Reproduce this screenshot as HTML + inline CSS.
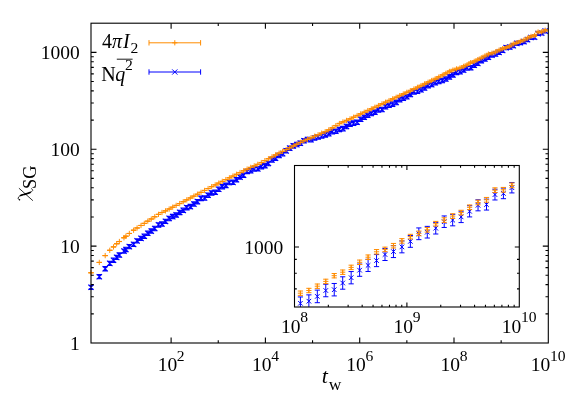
<!DOCTYPE html>
<html><head><meta charset="utf-8"><title>chart</title>
<style>
html,body{margin:0;padding:0;background:#fff;overflow:hidden;}
svg{display:block;will-change:transform;font-family:"Liberation Serif",serif;fill:#000;}
svg path,svg line,svg rect{shape-rendering:auto;}
</style></head><body>
<svg width="581" height="407" viewBox="0 0 581 407">
<rect x="0" y="0" width="581" height="407" fill="#fff"/>
<path d="M91.00 285.17V289.38M88.30 285.17h5.40M88.30 289.38h5.40M88.30 284.57l5.40 5.40M88.30 289.97l5.40 -5.40M99.30 274.60V278.83M96.60 274.60h5.40M96.60 278.83h5.40M96.60 274.02l5.40 5.40M96.60 279.42l5.40 -5.40M105.19 266.63V270.88M102.49 266.63h5.40M102.49 270.88h5.40M102.49 266.05l5.40 5.40M102.49 271.45l5.40 -5.40M109.76 261.28V265.55M107.06 261.28h5.40M107.06 265.55h5.40M107.06 260.72l5.40 5.40M107.06 266.12l5.40 -5.40M113.50 258.08V262.36M110.80 258.08h5.40M110.80 262.36h5.40M110.80 257.52l5.40 5.40M110.80 262.92l5.40 -5.40M116.65 255.25V259.54M113.95 255.25h5.40M113.95 259.54h5.40M113.95 254.69l5.40 5.40M113.95 260.09l5.40 -5.40M119.39 252.87V257.17M116.69 252.87h5.40M116.69 257.17h5.40M116.69 252.32l5.40 5.40M116.69 257.72l5.40 -5.40M123.96 248.98V253.29M121.26 248.98h5.40M121.26 253.29h5.40M121.26 248.43l5.40 5.40M121.26 253.83l5.40 -5.40M125.91 247.32V251.63M123.21 247.32h5.40M123.21 251.63h5.40M123.21 246.78l5.40 5.40M123.21 252.18l5.40 -5.40M129.33 244.41V248.73M126.63 244.41h5.40M126.63 248.73h5.40M126.63 243.87l5.40 5.40M126.63 249.27l5.40 -5.40M133.58 242.24V246.58M130.88 242.24h5.40M130.88 246.58h5.40M130.88 241.71l5.40 5.40M130.88 247.11l5.40 -5.40M137.10 238.69V243.04M134.40 238.69h5.40M134.40 243.04h5.40M134.40 238.17l5.40 5.40M134.40 243.57l5.40 -5.40M141.01 236.19V240.55M138.31 236.19h5.40M138.31 240.55h5.40M138.31 235.67l5.40 5.40M138.31 241.07l5.40 -5.40M144.29 234.07V238.44M141.59 234.07h5.40M141.59 238.44h5.40M141.59 233.56l5.40 5.40M141.59 238.96l5.40 -5.40M147.77 231.02V235.41M145.07 231.02h5.40M145.07 235.41h5.40M145.07 230.52l5.40 5.40M145.07 235.92l5.40 -5.40M151.29 228.88V233.28M148.59 228.88h5.40M148.59 233.28h5.40M148.59 228.38l5.40 5.40M148.59 233.78l5.40 -5.40M154.75 226.28V230.68M152.05 226.28h5.40M152.05 230.68h5.40M152.05 225.78l5.40 5.40M152.05 231.18l5.40 -5.40M158.49 222.71V227.13M155.79 222.71h5.40M155.79 227.13h5.40M155.79 222.22l5.40 5.40M155.79 227.62l5.40 -5.40M161.97 221.74V226.17M159.27 221.74h5.40M159.27 226.17h5.40M159.27 221.26l5.40 5.40M159.27 226.66l5.40 -5.40M165.49 219.16V223.59M162.79 219.16h5.40M162.79 223.59h5.40M162.79 218.67l5.40 5.40M162.79 224.07l5.40 -5.40M169.17 216.21V220.66M166.47 216.21h5.40M166.47 220.66h5.40M166.47 215.74l5.40 5.40M166.47 221.14l5.40 -5.40M172.68 214.37V218.82M169.98 214.37h5.40M169.98 218.82h5.40M169.98 213.89l5.40 5.40M169.98 219.29l5.40 -5.40M176.16 212.65V217.11M173.46 212.65h5.40M173.46 217.11h5.40M173.46 212.18l5.40 5.40M173.46 217.58l5.40 -5.40M179.68 210.18V214.64M176.98 210.18h5.40M176.98 214.64h5.40M176.98 209.71l5.40 5.40M176.98 215.11l5.40 -5.40M183.25 208.08V212.54M180.55 208.08h5.40M180.55 212.54h5.40M180.55 207.61l5.40 5.40M180.55 213.01l5.40 -5.40M186.78 205.41V209.87M184.08 205.41h5.40M184.08 209.87h5.40M184.08 204.94l5.40 5.40M184.08 210.34l5.40 -5.40M190.35 204.36V208.82M187.65 204.36h5.40M187.65 208.82h5.40M187.65 203.89l5.40 5.40M187.65 209.29l5.40 -5.40M193.87 201.87V206.34M191.17 201.87h5.40M191.17 206.34h5.40M191.17 201.41l5.40 5.40M191.17 206.81l5.40 -5.40M197.45 199.42V203.89M194.75 199.42h5.40M194.75 203.89h5.40M194.75 198.95l5.40 5.40M194.75 204.35l5.40 -5.40M201.02 196.13V200.60M198.32 196.13h5.40M198.32 200.60h5.40M198.32 195.66l5.40 5.40M198.32 201.06l5.40 -5.40M204.55 195.71V200.18M201.85 195.71h5.40M201.85 200.18h5.40M201.85 195.24l5.40 5.40M201.85 200.64l5.40 -5.40M208.10 192.94V197.41M205.40 192.94h5.40M205.40 197.41h5.40M205.40 192.47l5.40 5.40M205.40 197.87l5.40 -5.40M211.64 190.65V195.12M208.94 190.65h5.40M208.94 195.12h5.40M208.94 190.18l5.40 5.40M208.94 195.58l5.40 -5.40M215.19 189.98V194.45M212.49 189.98h5.40M212.49 194.45h5.40M212.49 189.52l5.40 5.40M212.49 194.92l5.40 -5.40M218.74 187.06V191.54M216.04 187.06h5.40M216.04 191.54h5.40M216.04 186.60l5.40 5.40M216.04 192.00l5.40 -5.40M222.29 184.48V188.96M219.59 184.48h5.40M219.59 188.96h5.40M219.59 184.02l5.40 5.40M219.59 189.42l5.40 -5.40M225.83 183.13V187.61M223.13 183.13h5.40M223.13 187.61h5.40M223.13 182.67l5.40 5.40M223.13 188.07l5.40 -5.40M229.38 180.31V184.79M226.68 180.31h5.40M226.68 184.79h5.40M226.68 179.85l5.40 5.40M226.68 185.25l5.40 -5.40M232.93 180.10V184.58M230.23 180.10h5.40M230.23 184.58h5.40M230.23 179.64l5.40 5.40M230.23 185.04l5.40 -5.40M236.48 177.49V181.97M233.78 177.49h5.40M233.78 181.97h5.40M233.78 177.03l5.40 5.40M233.78 182.43l5.40 -5.40M240.03 174.84V179.33M237.33 174.84h5.40M237.33 179.33h5.40M237.33 174.39l5.40 5.40M237.33 179.79l5.40 -5.40M243.58 173.03V177.51M240.88 173.03h5.40M240.88 177.51h5.40M240.88 172.57l5.40 5.40M240.88 177.97l5.40 -5.40M247.13 169.26V173.74M244.43 169.26h5.40M244.43 173.74h5.40M244.43 168.80l5.40 5.40M244.43 174.20l5.40 -5.40M250.68 168.49V172.98M247.98 168.49h5.40M247.98 172.98h5.40M247.98 168.03l5.40 5.40M247.98 173.43l5.40 -5.40M254.23 166.73V171.22M251.53 166.73h5.40M251.53 171.22h5.40M251.53 166.28l5.40 5.40M251.53 171.68l5.40 -5.40M257.77 166.56V171.06M255.07 166.56h5.40M255.07 171.06h5.40M255.07 166.11l5.40 5.40M255.07 171.51l5.40 -5.40M261.32 164.40V168.90M258.62 164.40h5.40M258.62 168.90h5.40M258.62 163.95l5.40 5.40M258.62 169.35l5.40 -5.40M264.87 163.37V167.87M262.17 163.37h5.40M262.17 167.87h5.40M262.17 162.92l5.40 5.40M262.17 168.32l5.40 -5.40M268.42 161.16V165.65M265.72 161.16h5.40M265.72 165.65h5.40M265.72 160.71l5.40 5.40M265.72 166.11l5.40 -5.40M271.97 157.74V162.24M269.27 157.74h5.40M269.27 162.24h5.40M269.27 157.29l5.40 5.40M269.27 162.69l5.40 -5.40M275.51 155.96V160.46M272.81 155.96h5.40M272.81 160.46h5.40M272.81 155.51l5.40 5.40M272.81 160.91l5.40 -5.40M279.06 153.25V157.75M276.36 153.25h5.40M276.36 157.75h5.40M276.36 152.80l5.40 5.40M276.36 158.20l5.40 -5.40M282.61 151.43V155.93M279.91 151.43h5.40M279.91 155.93h5.40M279.91 150.98l5.40 5.40M279.91 156.38l5.40 -5.40M286.16 148.58V153.08M283.46 148.58h5.40M283.46 153.08h5.40M283.46 148.13l5.40 5.40M283.46 153.53l5.40 -5.40M289.71 145.91V150.41M287.01 145.91h5.40M287.01 150.41h5.40M287.01 145.46l5.40 5.40M287.01 150.86l5.40 -5.40M293.26 143.61V148.11M290.56 143.61h5.40M290.56 148.11h5.40M290.56 143.16l5.40 5.40M290.56 148.56l5.40 -5.40M296.80 142.33V146.84M294.10 142.33h5.40M294.10 146.84h5.40M294.10 141.89l5.40 5.40M294.10 147.29l5.40 -5.40M300.35 140.90V145.41M297.65 140.90h5.40M297.65 145.41h5.40M297.65 140.46l5.40 5.40M297.65 145.86l5.40 -5.40M303.90 138.50V143.02M301.20 138.50h5.40M301.20 143.02h5.40M301.20 138.06l5.40 5.40M301.20 143.46l5.40 -5.40M307.45 137.22V141.73M304.75 137.22h5.40M304.75 141.73h5.40M304.75 136.78l5.40 5.40M304.75 142.18l5.40 -5.40M311.00 137.53V142.04M308.30 137.53h5.40M308.30 142.04h5.40M308.30 137.08l5.40 5.40M308.30 142.48l5.40 -5.40M314.55 135.71V140.23M311.85 135.71h5.40M311.85 140.23h5.40M311.85 135.27l5.40 5.40M311.85 140.67l5.40 -5.40M318.09 134.67V139.19M315.39 134.67h5.40M315.39 139.19h5.40M315.39 134.23l5.40 5.40M315.39 139.63l5.40 -5.40M321.64 133.77V138.29M318.94 133.77h5.40M318.94 138.29h5.40M318.94 133.33l5.40 5.40M318.94 138.73l5.40 -5.40M325.19 132.61V137.13M322.49 132.61h5.40M322.49 137.13h5.40M322.49 132.17l5.40 5.40M322.49 137.57l5.40 -5.40M328.74 131.38V135.90M326.04 131.38h5.40M326.04 135.90h5.40M326.04 130.94l5.40 5.40M326.04 136.34l5.40 -5.40M332.29 129.38V133.91M329.59 129.38h5.40M329.59 133.91h5.40M329.59 128.95l5.40 5.40M329.59 134.35l5.40 -5.40M335.84 128.92V133.44M333.14 128.92h5.40M333.14 133.44h5.40M333.14 128.48l5.40 5.40M333.14 133.88l5.40 -5.40M339.38 127.18V131.71M336.68 127.18h5.40M336.68 131.71h5.40M336.68 126.74l5.40 5.40M336.68 132.14l5.40 -5.40M342.93 126.39V130.92M340.23 126.39h5.40M340.23 130.92h5.40M340.23 125.95l5.40 5.40M340.23 131.35l5.40 -5.40M346.48 124.17V128.70M343.78 124.17h5.40M343.78 128.70h5.40M343.78 123.74l5.40 5.40M343.78 129.14l5.40 -5.40M350.03 121.84V126.37M347.33 121.84h5.40M347.33 126.37h5.40M347.33 121.41l5.40 5.40M347.33 126.81l5.40 -5.40M353.58 120.89V125.42M350.88 120.89h5.40M350.88 125.42h5.40M350.88 120.45l5.40 5.40M350.88 125.85l5.40 -5.40M357.13 119.93V124.46M354.43 119.93h5.40M354.43 124.46h5.40M354.43 119.49l5.40 5.40M354.43 124.89l5.40 -5.40M360.67 117.03V121.56M357.97 117.03h5.40M357.97 121.56h5.40M357.97 116.59l5.40 5.40M357.97 121.99l5.40 -5.40M364.22 114.91V119.45M361.52 114.91h5.40M361.52 119.45h5.40M361.52 114.48l5.40 5.40M361.52 119.88l5.40 -5.40M367.77 112.95V117.49M365.07 112.95h5.40M365.07 117.49h5.40M365.07 112.52l5.40 5.40M365.07 117.92l5.40 -5.40M371.32 111.25V115.78M368.62 111.25h5.40M368.62 115.78h5.40M368.62 110.82l5.40 5.40M368.62 116.22l5.40 -5.40M374.87 109.85V114.39M372.17 109.85h5.40M372.17 114.39h5.40M372.17 109.42l5.40 5.40M372.17 114.82l5.40 -5.40M378.42 107.63V112.17M375.72 107.63h5.40M375.72 112.17h5.40M375.72 107.20l5.40 5.40M375.72 112.60l5.40 -5.40M381.96 107.20V111.74M379.26 107.20h5.40M379.26 111.74h5.40M379.26 106.77l5.40 5.40M379.26 112.17l5.40 -5.40M385.51 104.53V109.07M382.81 104.53h5.40M382.81 109.07h5.40M382.81 104.10l5.40 5.40M382.81 109.50l5.40 -5.40M389.06 102.95V107.50M386.36 102.95h5.40M386.36 107.50h5.40M386.36 102.52l5.40 5.40M386.36 107.92l5.40 -5.40M392.61 101.84V106.39M389.91 101.84h5.40M389.91 106.39h5.40M389.91 101.42l5.40 5.40M389.91 106.82l5.40 -5.40M396.16 100.11V104.66M393.46 100.11h5.40M393.46 104.66h5.40M393.46 99.68l5.40 5.40M393.46 105.08l5.40 -5.40M399.71 97.48V102.03M397.01 97.48h5.40M397.01 102.03h5.40M397.01 97.06l5.40 5.40M397.01 102.46l5.40 -5.40M403.25 95.99V100.54M400.55 95.99h5.40M400.55 100.54h5.40M400.55 95.56l5.40 5.40M400.55 100.96l5.40 -5.40M406.80 94.42V98.97M404.10 94.42h5.40M404.10 98.97h5.40M404.10 94.00l5.40 5.40M404.10 99.40l5.40 -5.40M410.35 92.19V96.74M407.65 92.19h5.40M407.65 96.74h5.40M407.65 91.76l5.40 5.40M407.65 97.16l5.40 -5.40M413.90 89.63V94.18M411.20 89.63h5.40M411.20 94.18h5.40M411.20 89.20l5.40 5.40M411.20 94.60l5.40 -5.40M417.45 88.97V93.53M414.75 88.97h5.40M414.75 93.53h5.40M414.75 88.55l5.40 5.40M414.75 93.95l5.40 -5.40M421.00 87.52V92.08M418.30 87.52h5.40M418.30 92.08h5.40M418.30 87.10l5.40 5.40M418.30 92.50l5.40 -5.40M424.54 85.72V90.28M421.84 85.72h5.40M421.84 90.28h5.40M421.84 85.30l5.40 5.40M421.84 90.70l5.40 -5.40M428.09 83.48V88.05M425.39 83.48h5.40M425.39 88.05h5.40M425.39 83.06l5.40 5.40M425.39 88.46l5.40 -5.40M431.64 82.28V86.84M428.94 82.28h5.40M428.94 86.84h5.40M428.94 81.86l5.40 5.40M428.94 87.26l5.40 -5.40M435.19 80.52V85.08M432.49 80.52h5.40M432.49 85.08h5.40M432.49 80.10l5.40 5.40M432.49 85.50l5.40 -5.40M438.74 79.10V83.66M436.04 79.10h5.40M436.04 83.66h5.40M436.04 78.68l5.40 5.40M436.04 84.08l5.40 -5.40M442.29 78.24V82.81M439.59 78.24h5.40M439.59 82.81h5.40M439.59 77.83l5.40 5.40M439.59 83.23l5.40 -5.40M445.83 76.70V81.26M443.13 76.70h5.40M443.13 81.26h5.40M443.13 76.28l5.40 5.40M443.13 81.68l5.40 -5.40M449.38 74.60V79.17M446.68 74.60h5.40M446.68 79.17h5.40M446.68 74.19l5.40 5.40M446.68 79.59l5.40 -5.40M452.93 72.55V77.13M450.23 72.55h5.40M450.23 77.13h5.40M450.23 72.14l5.40 5.40M450.23 77.54l5.40 -5.40M456.48 70.25V74.81M453.78 70.25h5.40M453.78 74.81h5.40M453.78 69.83l5.40 5.40M453.78 75.23l5.40 -5.40M460.03 69.51V74.04M457.33 69.51h5.40M457.33 74.04h5.40M457.33 69.08l5.40 5.40M457.33 74.48l5.40 -5.40M463.58 67.81V72.31M460.88 67.81h5.40M460.88 72.31h5.40M460.88 67.36l5.40 5.40M460.88 72.76l5.40 -5.40M467.12 65.71V70.19M464.42 65.71h5.40M464.42 70.19h5.40M464.42 65.25l5.40 5.40M464.42 70.65l5.40 -5.40M470.67 65.44V69.89M467.97 65.44h5.40M467.97 69.89h5.40M467.97 64.96l5.40 5.40M467.97 70.36l5.40 -5.40M474.22 63.05V67.48M471.52 63.05h5.40M471.52 67.48h5.40M471.52 62.56l5.40 5.40M471.52 67.96l5.40 -5.40M477.77 61.17V65.57M475.07 61.17h5.40M475.07 65.57h5.40M475.07 60.67l5.40 5.40M475.07 66.07l5.40 -5.40M481.32 58.49V62.87M478.62 58.49h5.40M478.62 62.87h5.40M478.62 57.98l5.40 5.40M478.62 63.38l5.40 -5.40M484.87 56.79V61.14M482.17 56.79h5.40M482.17 61.14h5.40M482.17 56.26l5.40 5.40M482.17 61.66l5.40 -5.40M488.41 55.08V59.41M485.71 55.08h5.40M485.71 59.41h5.40M485.71 54.55l5.40 5.40M485.71 59.95l5.40 -5.40M491.96 52.91V57.21M489.26 52.91h5.40M489.26 57.21h5.40M489.26 52.36l5.40 5.40M489.26 57.76l5.40 -5.40M495.51 51.88V56.16M492.81 51.88h5.40M492.81 56.16h5.40M492.81 51.32l5.40 5.40M492.81 56.72l5.40 -5.40M499.06 50.21V54.47M496.36 50.21h5.40M496.36 54.47h5.40M496.36 49.64l5.40 5.40M496.36 55.04l5.40 -5.40M502.61 48.26V52.48M499.91 48.26h5.40M499.91 52.48h5.40M499.91 47.67l5.40 5.40M499.91 53.07l5.40 -5.40M506.16 45.55V49.75M503.46 45.55h5.40M503.46 49.75h5.40M503.46 44.95l5.40 5.40M503.46 50.35l5.40 -5.40M509.70 44.99V49.17M507.00 44.99h5.40M507.00 49.17h5.40M507.00 44.38l5.40 5.40M507.00 49.78l5.40 -5.40M513.25 43.57V47.72M510.55 43.57h5.40M510.55 47.72h5.40M510.55 42.95l5.40 5.40M510.55 48.35l5.40 -5.40M516.80 41.26V45.38M514.10 41.26h5.40M514.10 45.38h5.40M514.10 40.62l5.40 5.40M514.10 46.02l5.40 -5.40M520.35 40.70V44.80M517.65 40.70h5.40M517.65 44.80h5.40M517.65 40.05l5.40 5.40M517.65 45.45l5.40 -5.40M523.90 39.56V43.64M521.20 39.56h5.40M521.20 43.64h5.40M521.20 38.90l5.40 5.40M521.20 44.30l5.40 -5.40M527.45 37.58V41.61M524.75 37.58h5.40M524.75 41.61h5.40M524.75 36.90l5.40 5.40M524.75 42.30l5.40 -5.40M530.99 35.47V39.43M528.29 35.47h5.40M528.29 39.43h5.40M528.29 34.75l5.40 5.40M528.29 40.15l5.40 -5.40M534.54 35.24V39.15M531.84 35.24h5.40M531.84 39.15h5.40M531.84 34.50l5.40 5.40M531.84 39.90l5.40 -5.40M538.09 31.69V35.54M535.39 31.69h5.40M535.39 35.54h5.40M535.39 30.92l5.40 5.40M535.39 36.32l5.40 -5.40M541.64 31.29V35.08M538.94 31.29h5.40M538.94 35.08h5.40M538.94 30.49l5.40 5.40M538.94 35.89l5.40 -5.40M545.19 29.28V33.01M542.49 29.28h5.40M542.49 33.01h5.40M542.49 28.45l5.40 5.40M542.49 33.85l5.40 -5.40" stroke="#0000ff" stroke-width="1.05" fill="none" />
<path d="M91.00 272.72V272.83M88.40 272.72h5.20M88.40 272.83h5.20M88.35 272.77h5.30M91.00 270.12v5.30M99.30 262.36V262.47M96.70 262.36h5.20M96.70 262.47h5.20M96.65 262.42h5.30M99.30 259.77v5.30M105.19 255.55V255.67M102.59 255.55h5.20M102.59 255.67h5.20M102.54 255.61h5.30M105.19 252.96v5.30M109.76 250.25V250.37M107.16 250.25h5.20M107.16 250.37h5.20M107.11 250.31h5.30M109.76 247.66v5.30M113.50 246.84V246.96M110.90 246.84h5.20M110.90 246.96h5.20M110.85 246.90h5.30M113.50 244.25v5.30M116.65 243.70V243.82M114.05 243.70h5.20M114.05 243.82h5.20M114.00 243.76h5.30M116.65 241.11v5.30M119.39 241.45V241.58M116.79 241.45h5.20M116.79 241.58h5.20M116.74 241.52h5.30M119.39 238.87v5.30M123.96 237.70V237.83M121.36 237.70h5.20M121.36 237.83h5.20M121.31 237.76h5.30M123.96 235.11v5.30M125.91 236.13V236.26M123.31 236.13h5.20M123.31 236.26h5.20M123.26 236.19h5.30M125.91 233.54v5.30M129.33 233.40V233.53M126.73 233.40h5.20M126.73 233.53h5.20M126.68 233.47h5.30M129.33 230.82v5.30M133.58 230.14V230.27M130.98 230.14h5.20M130.98 230.27h5.20M130.93 230.21h5.30M133.58 227.56v5.30M137.10 227.90V228.03M134.50 227.90h5.20M134.50 228.03h5.20M134.45 227.96h5.30M137.10 225.31v5.30M141.01 225.40V225.54M138.41 225.40h5.20M138.41 225.54h5.20M138.36 225.47h5.30M141.01 222.82v5.30M144.29 223.31V223.45M141.69 223.31h5.20M141.69 223.45h5.20M141.64 223.38h5.30M144.29 220.73v5.30M147.77 221.09V221.24M145.17 221.09h5.20M145.17 221.24h5.20M145.12 221.16h5.30M147.77 218.51v5.30M151.29 218.90V219.05M148.69 218.90h5.20M148.69 219.05h5.20M148.64 218.98h5.30M151.29 216.33v5.30M154.75 216.68V216.83M152.15 216.68h5.20M152.15 216.83h5.20M152.10 216.76h5.30M154.75 214.11v5.30M158.49 214.29V214.44M155.89 214.29h5.20M155.89 214.44h5.20M155.84 214.37h5.30M158.49 211.72v5.30M161.97 212.41V212.57M159.37 212.41h5.20M159.37 212.57h5.20M159.32 212.49h5.30M161.97 209.84v5.30M165.49 210.79V210.95M162.89 210.79h5.20M162.89 210.95h5.20M162.84 210.87h5.30M165.49 208.22v5.30M169.17 208.93V209.09M166.57 208.93h5.20M166.57 209.09h5.20M166.52 209.01h5.30M169.17 206.36v5.30M172.68 207.12V207.28M170.08 207.12h5.20M170.08 207.28h5.20M170.03 207.20h5.30M172.68 204.55v5.30M176.16 205.31V205.48M173.56 205.31h5.20M173.56 205.48h5.20M173.51 205.39h5.30M176.16 202.74v5.30M179.68 203.49V203.66M177.08 203.49h5.20M177.08 203.66h5.20M177.03 203.57h5.30M179.68 200.92v5.30M183.25 201.63V201.80M180.65 201.63h5.20M180.65 201.80h5.20M180.60 201.72h5.30M183.25 199.07v5.30M186.78 199.79V199.97M184.18 199.79h5.20M184.18 199.97h5.20M184.13 199.88h5.30M186.78 197.23v5.30M190.35 197.89V198.07M187.75 197.89h5.20M187.75 198.07h5.20M187.70 197.98h5.30M190.35 195.33v5.30M193.87 196.02V196.20M191.27 196.02h5.20M191.27 196.20h5.20M191.22 196.11h5.30M193.87 193.46v5.30M197.45 194.13V194.30M194.85 194.13h5.20M194.85 194.30h5.20M194.80 194.21h5.30M197.45 191.56v5.30M201.02 192.23V192.41M198.42 192.23h5.20M198.42 192.41h5.20M198.37 192.32h5.30M201.02 189.67v5.30M204.55 190.35V190.54M201.95 190.35h5.20M201.95 190.54h5.20M201.90 190.45h5.30M204.55 187.80v5.30M208.10 188.47V188.65M205.50 188.47h5.20M205.50 188.65h5.20M205.45 188.56h5.30M208.10 185.91v5.30M211.64 186.58V186.77M209.04 186.58h5.20M209.04 186.77h5.20M208.99 186.68h5.30M211.64 184.03v5.30M215.19 184.82V185.01M212.59 184.82h5.20M212.59 185.01h5.20M212.54 184.91h5.30M215.19 182.26v5.30M218.74 183.05V183.24M216.14 183.05h5.20M216.14 183.24h5.20M216.09 183.14h5.30M218.74 180.49v5.30M222.29 181.27V181.48M219.69 181.27h5.20M219.69 181.48h5.20M219.64 181.37h5.30M222.29 178.72v5.30M225.83 179.51V179.71M223.23 179.51h5.20M223.23 179.71h5.20M223.18 179.61h5.30M225.83 176.96v5.30M229.38 177.73V177.95M226.78 177.73h5.20M226.78 177.95h5.20M226.73 177.84h5.30M229.38 175.19v5.30M232.93 175.96V176.19M230.33 175.96h5.20M230.33 176.19h5.20M230.28 176.07h5.30M232.93 173.42v5.30M236.48 174.19V174.42M233.88 174.19h5.20M233.88 174.42h5.20M233.83 174.31h5.30M236.48 171.66v5.30M240.03 172.45V172.69M237.43 172.45h5.20M237.43 172.69h5.20M237.38 172.57h5.30M240.03 169.92v5.30M243.58 170.71V170.96M240.98 170.71h5.20M240.98 170.96h5.20M240.93 170.83h5.30M243.58 168.18v5.30M247.13 168.98V169.23M244.53 168.98h5.20M244.53 169.23h5.20M244.48 169.10h5.30M247.13 166.45v5.30M250.68 167.28V167.54M248.08 167.28h5.20M248.08 167.54h5.20M248.03 167.41h5.30M250.68 164.76v5.30M254.23 165.74V166.00M251.63 165.74h5.20M251.63 166.00h5.20M251.58 165.87h5.30M254.23 163.22v5.30M257.77 164.19V164.47M255.17 164.19h5.20M255.17 164.47h5.20M255.12 164.33h5.30M257.77 161.68v5.30M261.32 162.42V162.70M258.72 162.42h5.20M258.72 162.70h5.20M258.67 162.56h5.30M261.32 159.91v5.30M264.87 160.51V160.80M262.27 160.51h5.20M262.27 160.80h5.20M262.22 160.66h5.30M264.87 158.01v5.30M268.42 158.61V158.90M265.82 158.61h5.20M265.82 158.90h5.20M265.77 158.76h5.30M268.42 156.11v5.30M271.97 156.70V157.01M269.37 156.70h5.20M269.37 157.01h5.20M269.32 156.85h5.30M271.97 154.20v5.30M275.51 154.80V155.11M272.91 154.80h5.20M272.91 155.11h5.20M272.86 154.95h5.30M275.51 152.30v5.30M279.06 153.00V153.32M276.46 153.00h5.20M276.46 153.32h5.20M276.41 153.16h5.30M279.06 150.51v5.30M282.61 151.21V151.53M280.01 151.21h5.20M280.01 151.53h5.20M279.96 151.37h5.30M282.61 148.72v5.30M286.16 149.41V149.75M283.56 149.41h5.20M283.56 149.75h5.20M283.51 149.58h5.30M286.16 146.93v5.30M289.71 147.62V147.96M287.11 147.62h5.20M287.11 147.96h5.20M287.06 147.79h5.30M289.71 145.14v5.30M293.26 145.83V146.18M290.66 145.83h5.20M290.66 146.18h5.20M290.61 146.00h5.30M293.26 143.35v5.30M296.80 144.04V144.39M294.20 144.04h5.20M294.20 144.39h5.20M294.15 144.22h5.30M296.80 141.57v5.30M300.35 142.25V142.61M297.75 142.25h5.20M297.75 142.61h5.20M297.70 142.43h5.30M300.35 139.78v5.30M303.90 140.63V141.00M301.30 140.63h5.20M301.30 141.00h5.20M301.25 140.81h5.30M303.90 138.16v5.30M307.45 139.10V139.48M304.85 139.10h5.20M304.85 139.48h5.20M304.80 139.29h5.30M307.45 136.64v5.30M311.00 137.58V137.96M308.40 137.58h5.20M308.40 137.96h5.20M308.35 137.77h5.30M311.00 135.12v5.30M314.55 136.05V136.45M311.95 136.05h5.20M311.95 136.45h5.20M311.90 136.25h5.30M314.55 133.60v5.30M318.09 134.52V134.94M315.49 134.52h5.20M315.49 134.94h5.20M315.44 134.73h5.30M318.09 132.08v5.30M321.64 132.99V133.43M319.04 132.99h5.20M319.04 133.43h5.20M318.99 133.21h5.30M321.64 130.56v5.30M325.19 131.46V131.92M322.59 131.46h5.20M322.59 131.92h5.20M322.54 131.69h5.30M325.19 129.04v5.30M328.74 129.71V130.20M326.14 129.71h5.20M326.14 130.20h5.20M326.09 129.96h5.30M328.74 127.31v5.30M332.29 127.57V128.08M329.69 127.57h5.20M329.69 128.08h5.20M329.64 127.83h5.30M332.29 125.18v5.30M335.84 125.43V125.96M333.24 125.43h5.20M333.24 125.96h5.20M333.19 125.70h5.30M335.84 123.05v5.30M339.38 123.29V123.85M336.78 123.29h5.20M336.78 123.85h5.20M336.73 123.57h5.30M339.38 120.92v5.30M342.93 121.67V122.25M340.33 121.67h5.20M340.33 122.25h5.20M340.28 121.96h5.30M342.93 119.31v5.30M346.48 120.17V120.76M343.88 120.17h5.20M343.88 120.76h5.20M343.83 120.46h5.30M346.48 117.81v5.30M350.03 118.61V119.23M347.43 118.61h5.20M347.43 119.23h5.20M347.38 118.92h5.30M350.03 116.27v5.30M353.58 116.93V117.57M350.98 116.93h5.20M350.98 117.57h5.20M350.93 117.25h5.30M353.58 114.60v5.30M357.13 115.25V115.91M354.53 115.25h5.20M354.53 115.91h5.20M354.48 115.58h5.30M357.13 112.93v5.30M360.67 113.57V114.25M358.07 113.57h5.20M358.07 114.25h5.20M358.02 113.91h5.30M360.67 111.26v5.30M364.22 111.89V112.59M361.62 111.89h5.20M361.62 112.59h5.20M361.57 112.24h5.30M364.22 109.59v5.30M367.77 110.21V110.94M365.17 110.21h5.20M365.17 110.94h5.20M365.12 110.58h5.30M367.77 107.93v5.30M371.32 108.54V109.29M368.72 108.54h5.20M368.72 109.29h5.20M368.67 108.91h5.30M371.32 106.26v5.30M374.87 106.86V107.63M372.27 106.86h5.20M372.27 107.63h5.20M372.22 107.25h5.30M374.87 104.60v5.30M378.42 105.19V105.98M375.82 105.19h5.20M375.82 105.98h5.20M375.77 105.58h5.30M378.42 102.93v5.30M381.96 103.51V104.33M379.36 103.51h5.20M379.36 104.33h5.20M379.31 103.92h5.30M381.96 101.27v5.30M385.51 101.84V102.67M382.91 101.84h5.20M382.91 102.67h5.20M382.86 102.26h5.30M385.51 99.61v5.30M389.06 100.16V101.02M386.46 100.16h5.20M386.46 101.02h5.20M386.41 100.59h5.30M389.06 97.94v5.30M392.61 98.49V99.37M390.01 98.49h5.20M390.01 99.37h5.20M389.96 98.93h5.30M392.61 96.28v5.30M396.16 96.84V97.74M393.56 96.84h5.20M393.56 97.74h5.20M393.51 97.29h5.30M396.16 94.64v5.30M399.71 95.18V96.11M397.11 95.18h5.20M397.11 96.11h5.20M397.06 95.64h5.30M399.71 92.99v5.30M403.25 93.53V94.47M400.65 93.53h5.20M400.65 94.47h5.20M400.60 94.00h5.30M403.25 91.35v5.30M406.80 91.87V92.84M404.20 91.87h5.20M404.20 92.84h5.20M404.15 92.36h5.30M406.80 89.71v5.30M410.35 90.21V91.22M407.75 90.21h5.20M407.75 91.22h5.20M407.70 90.71h5.30M410.35 88.06v5.30M413.90 88.54V89.60M411.30 88.54h5.20M411.30 89.60h5.20M411.25 89.07h5.30M413.90 86.42v5.30M417.45 86.79V87.89M414.85 86.79h5.20M414.85 87.89h5.20M414.80 87.34h5.30M417.45 84.69v5.30M421.00 85.07V86.21M418.40 85.07h5.20M418.40 86.21h5.20M418.35 85.64h5.30M421.00 82.99v5.30M424.54 83.35V84.54M421.94 83.35h5.20M421.94 84.54h5.20M421.89 83.94h5.30M424.54 81.29v5.30M428.09 81.63V82.86M425.49 81.63h5.20M425.49 82.86h5.20M425.44 82.25h5.30M428.09 79.60v5.30M431.64 79.92V81.19M429.04 79.92h5.20M429.04 81.19h5.20M428.99 80.55h5.30M431.64 77.90v5.30M435.19 78.20V79.52M432.59 78.20h5.20M432.59 79.52h5.20M432.54 78.86h5.30M435.19 76.21v5.30M438.74 76.48V77.84M436.14 76.48h5.20M436.14 77.84h5.20M436.09 77.16h5.30M438.74 74.51v5.30M442.29 74.57V75.98M439.69 74.57h5.20M439.69 75.98h5.20M439.64 75.28h5.30M442.29 72.63v5.30M445.83 72.65V74.10M443.23 72.65h5.20M443.23 74.10h5.20M443.18 73.38h5.30M445.83 70.73v5.30M449.38 70.73V72.22M446.78 70.73h5.20M446.78 72.22h5.20M446.73 71.47h5.30M449.38 68.82v5.30M452.93 69.32V70.86M450.33 69.32h5.20M450.33 70.86h5.20M450.28 70.09h5.30M452.93 67.44v5.30M456.48 68.14V69.69M453.88 68.14h5.20M453.88 69.69h5.20M453.83 68.92h5.30M456.48 66.27v5.30M460.03 67.17V68.73M457.43 67.17h5.20M457.43 68.73h5.20M457.38 67.95h5.30M460.03 65.30v5.30M463.58 65.63V67.19M460.98 65.63h5.20M460.98 67.19h5.20M460.93 66.41h5.30M463.58 63.76v5.30M467.12 63.91V65.48M464.52 63.91h5.20M464.52 65.48h5.20M464.47 64.69h5.30M467.12 62.04v5.30M470.67 61.86V63.44M468.07 61.86h5.20M468.07 63.44h5.20M468.02 62.65h5.30M470.67 60.00v5.30M474.22 60.61V62.19M471.62 60.61h5.20M471.62 62.19h5.20M471.57 61.40h5.30M474.22 58.75v5.30M477.77 58.88V60.47M475.17 58.88h5.20M475.17 60.47h5.20M475.12 59.68h5.30M477.77 57.03v5.30M481.32 57.06V58.65M478.72 57.06h5.20M478.72 58.65h5.20M478.67 57.85h5.30M481.32 55.20v5.30M484.87 55.23V56.83M482.27 55.23h5.20M482.27 56.83h5.20M482.22 56.03h5.30M484.87 53.38v5.30M488.41 53.29V54.90M485.81 53.29h5.20M485.81 54.90h5.20M485.76 54.09h5.30M488.41 51.44v5.30M491.96 52.43V54.04M489.36 52.43h5.20M489.36 54.04h5.20M489.31 53.24h5.30M491.96 50.59v5.30M495.51 51.10V52.72M492.91 51.10h5.20M492.91 52.72h5.20M492.86 51.91h5.30M495.51 49.26v5.30M499.06 49.38V51.00M496.46 49.38h5.20M496.46 51.00h5.20M496.41 50.19h5.30M499.06 47.54v5.30M502.61 47.84V49.47M500.01 47.84h5.20M500.01 49.47h5.20M499.96 48.65h5.30M502.61 46.00v5.30M506.16 46.69V48.33M503.56 46.69h5.20M503.56 48.33h5.20M503.51 47.51h5.30M506.16 44.86v5.30M509.70 45.40V47.04M507.10 45.40h5.20M507.10 47.04h5.20M507.05 46.22h5.30M509.70 43.57v5.30M513.25 43.21V44.86M510.65 43.21h5.20M510.65 44.86h5.20M510.60 44.04h5.30M513.25 41.39v5.30M516.80 41.92V43.57M514.20 41.92h5.20M514.20 43.57h5.20M514.15 42.75h5.30M516.80 40.10v5.30M520.35 40.48V42.14M517.75 40.48h5.20M517.75 42.14h5.20M517.70 41.31h5.30M520.35 38.66v5.30M523.90 39.23V40.89M521.30 39.23h5.20M521.30 40.89h5.20M521.25 40.06h5.30M523.90 37.41v5.30M527.45 37.33V39.00M524.85 37.33h5.20M524.85 39.00h5.20M524.80 38.16h5.30M527.45 35.51v5.30M530.99 35.61V37.28M528.39 35.61h5.20M528.39 37.28h5.20M528.34 36.45h5.30M530.99 33.80v5.30M534.54 34.64V36.32M531.94 34.64h5.20M531.94 36.32h5.20M531.89 35.48h5.30M534.54 32.83v5.30M538.09 31.20V32.89M535.49 31.20h5.20M535.49 32.89h5.20M535.44 32.04h5.30M538.09 29.39v5.30M541.64 31.05V32.75M539.04 31.05h5.20M539.04 32.75h5.20M538.99 31.90h5.30M541.64 29.25v5.30M545.19 29.47V31.17M542.59 29.47h5.20M542.59 31.17h5.20M542.54 30.32h5.30M545.19 27.67v5.30" stroke="#ff8c00" stroke-width="0.95" fill="none" />
<clipPath id="ic"><rect x="291.5" y="165.5" width="230.80" height="141.50"/></clipPath>
<rect x="294.5" y="165.5" width="224.80" height="141.50" fill="#fff"/>
<path d="M300.41 296.94V309.66M297.81 296.94h5.20M297.81 309.66h5.20M298.11 301.00l4.60 4.60M298.11 305.60l4.60 -4.60M308.87 294.87V307.53M306.27 294.87h5.20M306.27 307.53h5.20M306.57 298.90l4.60 4.60M306.57 303.50l4.60 -4.60M317.32 290.11V302.69M314.72 290.11h5.20M314.72 302.69h5.20M315.02 294.10l4.60 4.60M315.02 298.70l4.60 -4.60M325.78 284.24V296.76M323.18 284.24h5.20M323.18 296.76h5.20M323.48 288.20l4.60 4.60M323.48 292.80l4.60 -4.60M334.24 283.48V295.92M331.64 283.48h5.20M331.64 295.92h5.20M331.94 287.40l4.60 4.60M331.94 292.00l4.60 -4.60M342.70 276.81V289.19M340.10 276.81h5.20M340.10 289.19h5.20M340.40 280.70l4.60 4.60M340.40 285.30l4.60 -4.60M351.16 271.55V283.85M348.56 271.55h5.20M348.56 283.85h5.20M348.86 275.40l4.60 4.60M348.86 280.00l4.60 -4.60M359.62 264.09V276.31M357.02 264.09h5.20M357.02 276.31h5.20M357.32 267.90l4.60 4.60M357.32 272.50l4.60 -4.60M368.08 259.32V271.48M365.48 259.32h5.20M365.48 271.48h5.20M365.78 263.10l4.60 4.60M365.78 267.70l4.60 -4.60M376.54 254.56V266.64M373.94 254.56h5.20M373.94 266.64h5.20M374.24 258.30l4.60 4.60M374.24 262.90l4.60 -4.60M385.00 248.49V260.51M382.40 248.49h5.20M382.40 260.51h5.20M382.70 252.20l4.60 4.60M382.70 256.80l4.60 -4.60M393.46 245.63V257.57M390.86 245.63h5.20M390.86 257.57h5.20M391.16 249.30l4.60 4.60M391.16 253.90l4.60 -4.60M401.91 240.96V252.84M399.31 240.96h5.20M399.31 252.84h5.20M399.61 244.60l4.60 4.60M399.61 249.20l4.60 -4.60M410.37 235.50V247.30M407.77 235.50h5.20M407.77 247.30h5.20M408.07 239.10l4.60 4.60M408.07 243.70l4.60 -4.60M418.83 227.93V239.67M416.23 227.93h5.20M416.23 239.67h5.20M416.53 231.50l4.60 4.60M416.53 236.10l4.60 -4.60M427.29 226.37V238.03M424.69 226.37h5.20M424.69 238.03h5.20M424.99 229.90l4.60 4.60M424.99 234.50l4.60 -4.60M435.75 222.40V234.00M433.15 222.40h5.20M433.15 234.00h5.20M433.45 225.90l4.60 4.60M433.45 230.50l4.60 -4.60M444.21 215.94V227.46M441.61 215.94h5.20M441.61 227.46h5.20M441.91 219.40l4.60 4.60M441.91 224.00l4.60 -4.60M452.67 214.37V225.83M450.07 214.37h5.20M450.07 225.83h5.20M450.37 217.80l4.60 4.60M450.37 222.40l4.60 -4.60M461.13 211.21V222.59M458.53 211.21h5.20M458.53 222.59h5.20M458.83 214.60l4.60 4.60M458.83 219.20l4.60 -4.60M469.59 205.68V216.92M466.99 205.68h5.20M466.99 216.92h5.20M467.29 209.00l4.60 4.60M467.29 213.60l4.60 -4.60M478.04 199.76V210.84M475.44 199.76h5.20M475.44 210.84h5.20M475.74 203.00l4.60 4.60M475.74 207.60l4.60 -4.60M486.50 199.14V210.06M483.90 199.14h5.20M483.90 210.06h5.20M484.20 202.30l4.60 4.60M484.20 206.90l4.60 -4.60M494.96 189.22V199.98M492.36 189.22h5.20M492.36 199.98h5.20M492.66 192.30l4.60 4.60M492.66 196.90l4.60 -4.60M503.42 188.11V198.69M500.82 188.11h5.20M500.82 198.69h5.20M501.12 191.10l4.60 4.60M501.12 195.70l4.60 -4.60M511.88 182.49V192.91M509.28 182.49h5.20M509.28 192.91h5.20M509.58 185.40l4.60 4.60M509.58 190.00l4.60 -4.60" stroke="#0000ff" stroke-width="1.0" fill="none" clip-path="url(#ic)"/>
<path d="M300.41 291.03V295.37M297.81 291.03h5.20M297.81 295.37h5.20M297.81 293.20h5.20M300.41 290.60v5.20M308.87 288.32V292.68M306.27 288.32h5.20M306.27 292.68h5.20M306.27 290.50h5.20M308.87 287.90v5.20M317.32 284.01V288.39M314.72 284.01h5.20M314.72 288.39h5.20M314.72 286.20h5.20M317.32 283.60v5.20M325.78 279.20V283.60M323.18 279.20h5.20M323.18 283.60h5.20M323.18 281.40h5.20M325.78 278.80v5.20M334.24 273.50V277.90M331.64 273.50h5.20M331.64 277.90h5.20M331.64 275.70h5.20M334.24 273.10v5.20M342.70 269.99V274.41M340.10 269.99h5.20M340.10 274.41h5.20M340.10 272.20h5.20M342.70 269.60v5.20M351.16 265.18V269.62M348.56 265.18h5.20M348.56 269.62h5.20M348.56 267.40h5.20M351.16 264.80v5.20M359.62 260.07V264.53M357.02 260.07h5.20M357.02 264.53h5.20M357.02 262.30h5.20M359.62 259.70v5.20M368.08 254.96V259.44M365.48 254.96h5.20M365.48 259.44h5.20M365.48 257.20h5.20M368.08 254.60v5.20M376.54 249.56V254.04M373.94 249.56h5.20M373.94 254.04h5.20M373.94 251.80h5.20M376.54 249.20v5.20M385.00 247.15V251.65M382.40 247.15h5.20M382.40 251.65h5.20M382.40 249.40h5.20M385.00 246.80v5.20M393.46 243.44V247.96M390.86 243.44h5.20M390.86 247.96h5.20M390.86 245.70h5.20M393.46 243.10v5.20M401.91 238.63V243.17M399.31 238.63h5.20M399.31 243.17h5.20M399.31 240.90h5.20M401.91 238.30v5.20M410.37 234.32V238.88M407.77 234.32h5.20M407.77 238.88h5.20M407.77 236.60h5.20M410.37 234.00v5.20M418.83 231.12V235.68M416.23 231.12h5.20M416.23 235.68h5.20M416.23 233.40h5.20M418.83 230.80v5.20M427.29 227.51V232.09M424.69 227.51h5.20M424.69 232.09h5.20M424.69 229.80h5.20M427.29 227.20v5.20M435.75 221.40V226.00M433.15 221.40h5.20M433.15 226.00h5.20M433.15 223.70h5.20M435.75 221.10v5.20M444.21 217.79V222.41M441.61 217.79h5.20M441.61 222.41h5.20M441.61 220.10h5.20M444.21 217.50v5.20M452.67 213.78V218.42M450.07 213.78h5.20M450.07 218.42h5.20M450.07 216.10h5.20M452.67 213.50v5.20M461.13 210.27V214.93M458.53 210.27h5.20M458.53 214.93h5.20M458.53 212.60h5.20M461.13 210.00v5.20M469.59 204.97V209.63M466.99 204.97h5.20M466.99 209.63h5.20M466.99 207.30h5.20M469.59 204.70v5.20M478.04 200.16V204.84M475.44 200.16h5.20M475.44 204.84h5.20M475.44 202.50h5.20M478.04 199.90v5.20M486.50 197.45V202.15M483.90 197.45h5.20M483.90 202.15h5.20M483.90 199.80h5.20M486.50 197.20v5.20M494.96 187.84V192.56M492.36 187.84h5.20M492.36 192.56h5.20M492.36 190.20h5.20M494.96 187.60v5.20M503.42 187.43V192.17M500.82 187.43h5.20M500.82 192.17h5.20M500.82 189.80h5.20M503.42 187.20v5.20M511.88 183.03V187.77M509.28 183.03h5.20M509.28 187.77h5.20M509.28 185.40h5.20M511.88 182.80v5.20" stroke="#ff8c00" stroke-width="1.0" fill="none" clip-path="url(#ic)"/>
<path d="M149 42.8H200.6M149 40.099999999999994v5.4M200.6 40.099999999999994v5.4M172.20000000000002 42.8h5.2M174.8 40.199999999999996v5.2" stroke="#ff8c00" stroke-width="1.0" fill="none" />
<path d="M149 72.0H200.6M149 69.3v5.4M200.6 69.3v5.4M172.20000000000002 69.4l5.2 5.2M172.20000000000002 74.6l5.2 -5.2" stroke="#0000ff" stroke-width="1.0" fill="none" />
<path d="M91.0 313.84h2.8M548.3 313.84h-2.8M91.0 296.78h2.8M548.3 296.78h-2.8M91.0 284.67h2.8M548.3 284.67h-2.8M91.0 275.28h2.8M548.3 275.28h-2.8M91.0 267.61h2.8M548.3 267.61h-2.8M91.0 261.13h2.8M548.3 261.13h-2.8M91.0 255.51h2.8M548.3 255.51h-2.8M91.0 250.55h2.8M548.3 250.55h-2.8M91.0 246.12h5.5M548.3 246.12h-5.5M91.0 216.96h2.8M548.3 216.96h-2.8M91.0 199.90h2.8M548.3 199.90h-2.8M91.0 187.79h2.8M548.3 187.79h-2.8M91.0 178.41h2.8M548.3 178.41h-2.8M91.0 170.73h2.8M548.3 170.73h-2.8M91.0 164.25h2.8M548.3 164.25h-2.8M91.0 158.63h2.8M548.3 158.63h-2.8M91.0 153.68h2.8M548.3 153.68h-2.8M91.0 149.24h5.5M548.3 149.24h-5.5M91.0 120.08h2.8M548.3 120.08h-2.8M91.0 103.02h2.8M548.3 103.02h-2.8M91.0 90.92h2.8M548.3 90.92h-2.8M91.0 81.53h2.8M548.3 81.53h-2.8M91.0 73.86h2.8M548.3 73.86h-2.8M91.0 67.37h2.8M548.3 67.37h-2.8M91.0 61.75h2.8M548.3 61.75h-2.8M91.0 56.80h2.8M548.3 56.80h-2.8M91.0 52.36h5.5M548.3 52.36h-5.5M171.11 343.0v-5.5M171.11 23.2v5.5M218.25 343.0v-2.8M218.25 23.2v2.8M265.40 343.0v-5.5M265.40 23.2v5.5M312.55 343.0v-2.8M312.55 23.2v2.8M359.70 343.0v-5.5M359.70 23.2v5.5M406.85 343.0v-2.8M406.85 23.2v2.8M454.00 343.0v-5.5M454.00 23.2v5.5M501.15 343.0v-2.8M501.15 23.2v2.8" stroke="#000000" stroke-width="1.1" fill="none" />
<rect x="91.0" y="23.2" width="457.30" height="319.80" fill="none" stroke="#000000" stroke-width="1.1"/>
<path d="M294.5 288.88h2.3M519.3 288.88h-2.3M294.5 273.19h2.3M519.3 273.19h-2.3M294.5 259.35h2.3M519.3 259.35h-2.3M294.5 246.96h4.5M519.3 246.96h-4.5M328.34 307.0v-2.3M328.34 165.5v2.3M348.13 307.0v-2.3M348.13 165.5v2.3M362.17 307.0v-2.3M362.17 165.5v2.3M373.06 307.0v-2.3M373.06 165.5v2.3M381.96 307.0v-2.3M381.96 165.5v2.3M389.49 307.0v-2.3M389.49 165.5v2.3M396.01 307.0v-2.3M396.01 165.5v2.3M401.76 307.0v-2.3M401.76 165.5v2.3M406.90 307.0v-4.5M406.90 165.5v4.5M440.74 307.0v-2.3M440.74 165.5v2.3M460.53 307.0v-2.3M460.53 165.5v2.3M474.57 307.0v-2.3M474.57 165.5v2.3M485.46 307.0v-2.3M485.46 165.5v2.3M494.36 307.0v-2.3M494.36 165.5v2.3M501.89 307.0v-2.3M501.89 165.5v2.3M508.41 307.0v-2.3M508.41 165.5v2.3M514.16 307.0v-2.3M514.16 165.5v2.3" stroke="#000000" stroke-width="1.1" fill="none" />
<rect x="294.5" y="165.5" width="224.80" height="141.50" fill="none" stroke="#000000" stroke-width="1.1"/>
<text x="79.65" y="349.75" font-size="19.5" text-anchor="end" style="" >1</text>
<text x="79.65" y="252.87" font-size="19.5" text-anchor="end" style="" >10</text>
<text x="79.65" y="155.99" font-size="19.5" text-anchor="end" style="" >100</text>
<text x="79.65" y="59.11" font-size="19.5" text-anchor="end" style="" >1000</text>
<text x="157.66" y="370.90" font-size="19.5" text-anchor="start" style="" >10</text>
<text x="176.86" y="360.80" font-size="15.6" text-anchor="start" style="" >2</text>
<text x="251.95" y="370.90" font-size="19.5" text-anchor="start" style="" >10</text>
<text x="271.15" y="360.80" font-size="15.6" text-anchor="start" style="" >4</text>
<text x="346.25" y="370.90" font-size="19.5" text-anchor="start" style="" >10</text>
<text x="365.45" y="360.80" font-size="15.6" text-anchor="start" style="" >6</text>
<text x="440.55" y="370.90" font-size="19.5" text-anchor="start" style="" >10</text>
<text x="459.75" y="360.80" font-size="15.6" text-anchor="start" style="" >8</text>
<text x="530.80" y="370.90" font-size="19.5" text-anchor="start" style="" >10</text>
<text x="550.00" y="360.80" font-size="15.6" text-anchor="start" style="" >10</text>
<text x="283.20" y="253.71" font-size="19.5" text-anchor="end" style="" >1000</text>
<text x="281.05" y="332.50" font-size="19.5" text-anchor="start" style="" >10</text>
<text x="300.25" y="322.40" font-size="15.6" text-anchor="start" style="" >8</text>
<text x="393.45" y="332.50" font-size="19.5" text-anchor="start" style="" >10</text>
<text x="412.65" y="322.40" font-size="15.6" text-anchor="start" style="" >9</text>
<text x="501.80" y="332.50" font-size="19.5" text-anchor="start" style="" >10</text>
<text x="521.00" y="322.40" font-size="15.6" text-anchor="start" style="" >10</text>
<text x="321.80" y="382.90" font-size="22.0" text-anchor="start" style="font-style:italic;" >t</text>
<text x="328.80" y="389.75" font-size="17.5" text-anchor="start" style="" >w</text>
<path d="M18.91 188.18L32.92 200.71" stroke="#000" stroke-width="0.8" fill="none"/>
<path d="M19.41 199.72C18.6 199.5 17.9 198.8 18.18 198.0C18.5 197.0 19.0 196.3 19.9 195.79C21.5 194.9 23.5 194.6 25.3 194.07C27.2 193.5 29.2 192.9 30.71 192.11C31.9 191.5 32.6 191.0 32.67 190.39C32.75 189.6 32.2 189.0 31.44 188.67" stroke="#000" stroke-width="0.8" fill="none" stroke-linecap="round"/>
<path d="M20.6 195.45C22.2 194.75 23.7 194.55 25.3 194.07C27.0 193.55 28.8 193.0 30.1 192.4" stroke="#000" stroke-width="1.7" fill="none" stroke-linecap="round"/>
<circle cx="19.5" cy="199.65" r="0.75" fill="#000"/>
<g transform="translate(29.5,201) rotate(-90)">
<text x="12.07" y="6.30" font-size="18.4" text-anchor="start" style="" >SG</text>
</g>
<text x="102.00" y="47.60" font-size="20.0" text-anchor="start" style="" >4</text>
<text x="112.00" y="47.60" font-size="20.0" text-anchor="start" style="font-style:italic;" >π</text>
<text x="123.00" y="47.60" font-size="20.0" text-anchor="start" style="font-style:italic;" >I</text>
<text x="130.60" y="52.70" font-size="15.6" text-anchor="start" style="" >2</text>
<text x="101.20" y="80.75" font-size="20.0" text-anchor="start" style="" >N</text>
<text x="115.30" y="80.75" font-size="20.0" text-anchor="start" style="font-style:italic;" >q</text>
<text x="125.00" y="70.40" font-size="15.6" text-anchor="start" style="" >2</text>
<line x1="116.80" y1="59.20" x2="132.60" y2="59.20" stroke="#000000" stroke-width="0.9" />
</svg>
</body></html>
